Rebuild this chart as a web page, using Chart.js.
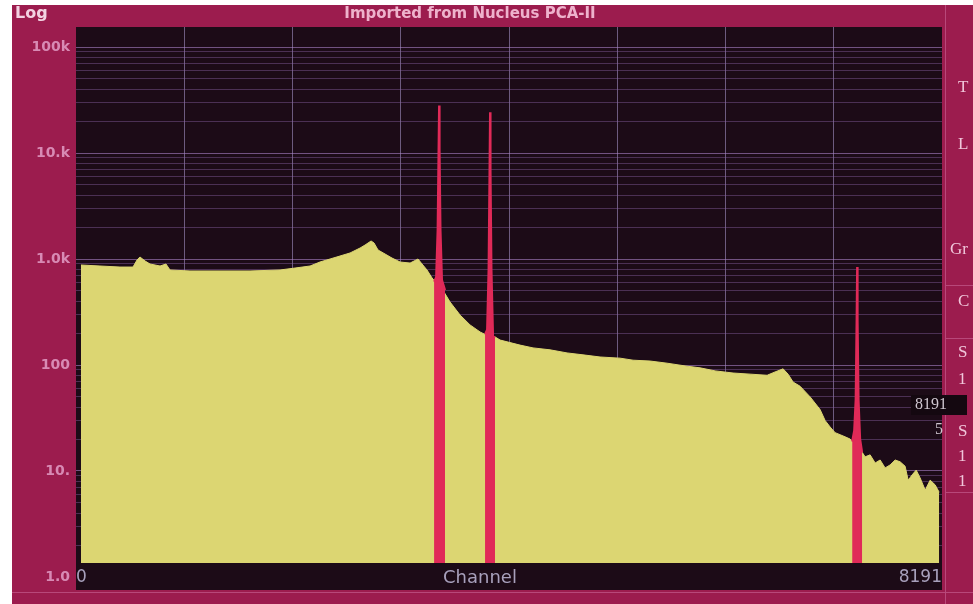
<!DOCTYPE html>
<html>
<head>
<meta charset="utf-8">
<style>
  html, body { margin: 0; padding: 0; background: #fff; }
  #wrap { width: 973px; height: 604px; }
</style>
<script src="https://cdn.jsdelivr.net/npm/chart.js@4.4.1/dist/chart.umd.min.js"></script>
</head>
<body>
<div id="wrap"><canvas id="myChart"></canvas></div>
<script>

// continuum (channel / counts)
const channels = [47, 227, 416, 539, 577, 605, 653, 700, 795, 851,
  889, 1078, 1362, 1646, 1930, 2072, 2214, 2308, 2403, 2497,
  2592, 2687, 2734, 2791, 2819, 2857, 2923, 2989, 3065, 3160,
  3235, 3273, 3320, 3368, 3406, 3481, 3538, 3633, 3727, 3822,
  3879, 3964, 4011, 4200, 4323, 4484, 4645, 4815, 4957, 5146,
  5269, 5430, 5591, 5761, 5903, 6045, 6215, 6376, 6537, 6612,
  6688, 6735, 6783, 6849, 6944, 7038, 7085, 7133, 7180, 7227,
  7275, 7322, 7436, 7464, 7511, 7559, 7606, 7653, 7700, 7748,
  7795, 7842, 7871, 7909, 7947, 7984, 8032, 8079, 8126, 8164];
const counts = [878, 859, 840, 840, 979, 1045, 958, 897, 859, 897,
  788, 771, 771, 771, 788, 822, 859, 937, 1000, 1067,
  1140, 1270, 1355, 1479, 1416, 1216, 1115, 1021, 937, 916,
  1000, 897, 788, 662, 594, 488, 393, 296, 239, 205,
  192, 184, 172, 154, 145, 139, 130, 124, 119, 116,
  111, 109, 104, 98, 94, 88, 84, 82, 80, 86,
  92, 82, 69, 63, 50, 38, 30, 26, 23, 22,
  21, 20, 15, 13.6, 14.2, 11.9, 12.7, 10.7, 11.4, 12.7,
  12.2, 11.1, 8.2, 9.2, 10.2, 8.6, 6.6, 8.2, 7.4, 6.3];

// marked peaks (ROIs)
const peak1Channels = [3387, 3406, 3420, 3429, 3434, 3439, 3448, 3462, 3491];
const peak1Counts = [610, 676, 1870, 10700, 28000, 10700, 1870, 634, 510];
const peak2Channels = [3869, 3888, 3902, 3911, 3916, 3921, 3930, 3945, 3964];
const peak2Counts = [195, 215, 788, 6900, 24300, 6900, 788, 186, 182];
const peak3Channels = [7341, 7360, 7374, 7383, 7388, 7393, 7402, 7417, 7436];
const peak3Counts = [19, 24, 47, 265, 840, 265, 47, 20, 15];

// axes
const yTickValues = [1, 10, 100, 1000, 10000, 100000];
const yTickLabels = ['1.0', '10.', '100', '1.0k', '10.k', '100k'];
const xGridChannels = [0, 1024, 2048, 3072, 4096, 5120, 6144, 7168, 8191];
const xTickLabels = ['0', '8191'];
const panelLetters = ['T', 'L', 'Gr', 'C', 'S', '1', 'S', '1', '1'];

const toPoints = (xs, ys) => xs.map((x, i) => ({ x: x, y: ys[i] }));

const YELLOW = '#dcd672';
const RED = '#e02a58';

const screenFrame = {
  id: 'screenFrame',
  beforeDraw(chart) {
    const { ctx, width, height, chartArea: { left, right, top } } = chart;
    const stripBottom = chart.scales.x.bottom;
    ctx.save();
    ctx.fillStyle = '#ffffff';
    ctx.fillRect(0, 0, width, height);
    ctx.fillStyle = '#9c1c4e';
    ctx.fillRect(12, 5, width - 12, height - 5);
    // lighter line under the plot
    ctx.fillStyle = '#b8487a';
    ctx.fillRect(12, 592, width - 12, 1);
    // side panel border + separators
    ctx.fillRect(945, 5, 1, height - 5);
    ctx.fillRect(945, 285, width - 945, 1);
    ctx.fillRect(945, 338, width - 945, 1);
    ctx.fillRect(945, 492, width - 945, 1);
    // screen background
    ctx.fillStyle = '#1c0b17';
    ctx.fillRect(left, top, right - left, stripBottom - top);
    ctx.restore();
  },
  afterDraw(chart) {
    const { ctx } = chart;
    ctx.save();
    ctx.textBaseline = 'middle';

    ctx.font = 'bold 16px "DejaVu Sans"';
    ctx.fillStyle = '#f3d2e2';
    ctx.textAlign = 'left';
    ctx.fillText('Log', 15, 14);

    ctx.font = 'bold 15px "DejaVu Sans"';
    ctx.fillStyle = '#eeb2cc';
    ctx.textAlign = 'center';
    ctx.fillText('Imported from Nucleus PCA-II', 470, 14);

    ctx.font = '18px "DejaVu Sans"';
    ctx.fillStyle = '#a8a0bc';
    ctx.fillText('Channel', 480, 578);

    // cut-off side panel labels
    ctx.font = '17px "Liberation Serif"';
    ctx.fillStyle = '#f0c6da';
    ctx.textAlign = 'left';
    const letterY = [88, 145, 250, 302, 353, 380, 432, 457, 482];
    panelLetters.forEach((t, i) => {
      ctx.fillText(t, t === 'Gr' ? 950 : 958, letterY[i]);
    });

    // cursor readout box
    ctx.fillStyle = '#140810';
    ctx.fillRect(911, 395, 56, 20);
    ctx.font = '16px "Liberation Serif"';
    ctx.fillStyle = '#cfc6d0';
    ctx.fillText('8191', 915, 405);
    ctx.fillText('5', 935, 430);
    ctx.restore();
  }
};

const ctx = document.getElementById('myChart');

new Chart(ctx, {
  type: 'line',
  data: {
    datasets: [
      {
        label: 'Spectrum',
        data: toPoints(channels, counts),
        borderColor: YELLOW,
        backgroundColor: YELLOW,
        borderWidth: 1,
        fill: 'start',
        order: 1,
      },
      {
        label: 'ROI 1',
        data: toPoints(peak1Channels, peak1Counts),
        borderColor: RED,
        backgroundColor: RED,
        borderWidth: 2,
        fill: 'start',
        order: 0,
      },
      {
        label: 'ROI 2',
        data: toPoints(peak2Channels, peak2Counts),
        borderColor: RED,
        backgroundColor: RED,
        borderWidth: 2,
        fill: 'start',
        order: 0,
      },
      {
        label: 'ROI 3',
        data: toPoints(peak3Channels, peak3Counts),
        borderColor: RED,
        backgroundColor: RED,
        borderWidth: 2,
        fill: 'start',
        order: 0,
      },
    ]
  },
  options: {
    responsive: true,
    maintainAspectRatio: false,
    animation: false,
    layout: { padding: { top: 27, right: 31, bottom: 14, left: 0 } },
    elements: { point: { radius: 0 }, line: { tension: 0 } },
    scales: {
      x: {
        type: 'linear',
        min: 0,
        max: 8191,
        afterFit(scale) { scale.height = 27; },
        afterBuildTicks(scale) {
          scale.ticks = xGridChannels.map(v => ({ value: v }));
        },
        border: { display: false },
        grid: {
          drawTicks: false,
          color: c => (c.index === 0 || c.index === xGridChannels.length - 1)
            ? 'rgba(0,0,0,0)' : 'rgba(176,158,214,0.55)',
        },
        ticks: {
          autoSkip: false,
          maxRotation: 0,
          align: 'inner',
          padding: 4,
          color: '#a8a0bc',
          font: { family: 'DejaVu Sans', size: 17 },
          callback: (v, i, ticks) => i === 0 ? xTickLabels[0]
            : (i === ticks.length - 1 ? xTickLabels[1] : ''),
        },
      },
      y: {
        type: 'logarithmic',
        min: 1.355,
        max: 154500,
        afterFit(scale) { scale.width = 76; },
        afterBuildTicks(scale) {
          const t = [];
          for (let e = 0; e <= 5; e++) {
            for (let m = 1; m <= 9; m++) {
              const v = m * Math.pow(10, e);
              if (v <= scale.max) t.push({ value: v, major: m === 1 });
            }
          }
          scale.ticks = t;
        },
        border: { display: false },
        grid: {
          drawTicks: false,
          color: c => {
            const v = c.tick ? c.tick.value : 0;
            if (v < 1.355) return 'rgba(0,0,0,0)';
            return yTickValues.includes(v) ? 'rgba(170,130,200,0.6)' : 'rgba(140,100,170,0.42)';
          },
        },
        ticks: {
          autoSkip: false,
          padding: 6,
          color: '#d88ab4',
          font: { family: 'DejaVu Sans', size: 14, weight: 'bold' },
          callback: v => {
            const i = yTickValues.indexOf(v);
            return i >= 0 ? yTickLabels[i] : '';
          },
        },
      },
    },
    plugins: {
      legend: { display: false },
      tooltip: { enabled: false },
    },
  },
  plugins: [screenFrame]
});
</script>
</body>
</html>
